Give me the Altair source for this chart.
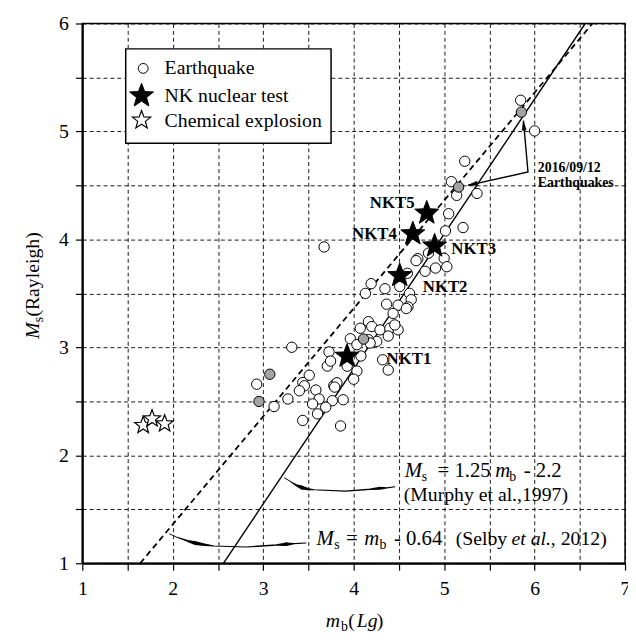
import altair as alt
import pandas as pd

# ---------------- data ----------------
eq_mb = [5.846, 6.0, 5.228, 5.08, 5.139, 5.363, 5.05, 5.209, 5.015,
         4.827, 4.709, 4.69, 5.0, 5.03, 4.905, 4.79, 4.593,
         3.673,
         4.193, 4.13, 4.346, 4.509, 4.618, 4.636, 4.6, 4.491, 4.364, 4.436, 4.582,
         4.163, 4.2, 4.073, 4.291, 4.4, 4.491, 4.455, 4.255, 4.382, 3.963, 4.163, 4.036, 4.182,
         3.316, 3.727, 3.709, 3.745, 3.928, 4.036, 4.0, 4.32, 4.382, 4.08,
         2.928, 3.509, 3.437, 3.455, 3.4, 3.582, 3.8, 3.78, 3.815, 3.79, 3.618, 3.546,
         3.764, 3.884, 3.691, 3.6, 3.273, 3.12, 3.437, 3.855]
eq_ms = [5.289, 5.005, 4.724, 4.535, 4.408, 4.426, 4.238, 4.11, 4.079,
         3.873, 3.822, 3.803, 3.825, 3.747, 3.735, 3.705, 3.686,
         3.93,
         3.59, 3.50, 3.543, 3.564, 3.50, 3.442, 3.375, 3.391, 3.40, 3.314, 3.36,
         3.238, 3.193, 3.177, 3.162, 3.177, 3.162, 3.208, 3.055, 3.105, 3.08, 3.071, 3.025, 3.04,
         3.001, 2.958, 2.827, 2.873, 2.826, 2.781, 2.705, 2.885, 2.79, 2.92,
         2.659, 2.742, 2.674, 2.644, 2.598, 2.605, 2.659, 2.645, 2.672, 2.632, 2.522, 2.476,
         2.506, 2.515, 2.446, 2.384, 2.522, 2.452, 2.323, 2.272]

gq_mb = [5.854, 5.16, 4.109, 3.073, 2.953]          # 2016/09/12 earthquakes (grey)
gq_ms = [5.179, 4.485, 3.077, 2.751, 2.499]

nk_names = ["NKT1", "NKT2", "NKT3", "NKT4", "NKT5"]
nk_mb = [3.927, 4.509, 4.895, 4.654, 4.808]
nk_ms = [2.918, 3.665, 3.939, 4.052, 4.244]

ch_mb = [1.673, 1.771, 1.91]                         # chemical explosions
ch_ms = [2.278, 2.339, 2.293]

murphy_mb = [2.56, 6.56]                             # Ms = 1.25 mb - 2.2
murphy_ms = [1.0, 6.0]
selby_mb = [1.64, 6.64]                              # Ms = mb - 0.64
selby_ms = [1.0, 6.0]

x_ticks = [1 + 0.5 * i for i in range(13)]
y_ticks = [1 + 0.5 * i for i in range(11)]

FONT = "Liberation Serif"
STAR = ("M0,-1L0.247,-0.34L0.951,-0.309L0.399,0.13L0.588,0.809L0,0.42"
        "L-0.588,0.809L-0.399,0.13L-0.951,-0.309L-0.247,-0.34Z")
HEAD = "M0,-1L0.45,1L-0.45,1Z"

# ---------------- scales / axes ----------------
XS = alt.Scale(domain=[1, 7], nice=False, zero=False)
YS = alt.Scale(domain=[1, 6], nice=False, zero=False)
common = dict(grid=True, gridColor="black", gridDash=[4, 3], gridWidth=0.9, gridOpacity=1,
              tickColor="black", tickSize=7, tickWidth=1.2, domainColor="black", domainWidth=2,
              labelFont=FONT, labelFontSize=20, labelColor="black", labelOverlap=False,
              labelFlush=False, labelBound=False, title=None,
              labelExpr="datum.value % 1 == 0 ? format(datum.value, 'd') : ''")
XA = alt.Axis(values=x_ticks, labelPadding=9, **common)
YA = alt.Axis(values=y_ticks, labelPadding=7, **common)


def X(f="x"):
    return alt.X(f, type="quantitative", scale=XS, axis=XA)


def Y(f="y"):
    return alt.Y(f, type="quantitative", scale=YS, axis=YA)


def txt(x, y, s, size=20, style="normal", weight="normal", align="left",
        baseline="alphabetic", angle=0):
    df = pd.DataFrame({"x": [x], "y": [y], "t": [s]})
    return alt.Chart(df).mark_text(font=FONT, fontSize=size, fontStyle=style,
                                   fontWeight=weight, align=align, baseline=baseline,
                                   angle=angle, color="black").encode(x=X(), y=Y(), text="t:N")


# ---------------- layers ----------------
lines_df = pd.DataFrame({"x": murphy_mb, "y": murphy_ms})
murphy = alt.Chart(lines_df).mark_line(color="black", strokeWidth=1.4, clip=True).encode(x=X(), y=Y())
selby_df = pd.DataFrame({"x": selby_mb, "y": selby_ms})
selby = alt.Chart(selby_df).mark_line(color="black", strokeWidth=1.8, strokeDash=[6, 4],
                                      clip=True).encode(x=X(), y=Y())

eq = alt.Chart(pd.DataFrame({"x": eq_mb, "y": eq_ms})).mark_point(
    shape="circle", filled=True, fill="white", stroke="black", strokeWidth=1, size=110,
    opacity=1).encode(x=X(), y=Y())
gq = alt.Chart(pd.DataFrame({"x": gq_mb, "y": gq_ms})).mark_point(
    shape="circle", filled=True, fill="#a3a3a3", stroke="black", strokeWidth=1, size=110,
    opacity=1).encode(x=X(), y=Y())
nk = alt.Chart(pd.DataFrame({"x": nk_mb, "y": nk_ms, "n": nk_names})).mark_point(
    shape=STAR, filled=True, fill="black", stroke="black", strokeWidth=1, size=650,
    opacity=1).encode(x=X(), y=Y())
ch = alt.Chart(pd.DataFrame({"x": ch_mb, "y": ch_ms})).mark_point(
    shape=STAR, filled=True, fill="white", stroke="black", strokeWidth=1.2, size=330,
    opacity=1).encode(x=X(), y=Y())

# NKT labels
nk_lab = [
    txt(4.673, 4.335, "NKT5", 17, weight="bold", align="right", baseline="middle"),
    txt(4.477, 4.051, "NKT4", 17, weight="bold", align="right", baseline="middle"),
    txt(5.080, 3.909, "NKT3", 17, weight="bold", baseline="middle"),
    txt(4.764, 3.558, "NKT2", 17, weight="bold", baseline="middle"),
    txt(4.364, 2.888, "NKT1", 17, weight="bold", baseline="middle"),
    txt(6.036, 4.660, "2016/09/12", 14, weight="bold", baseline="middle"),
    txt(6.036, 4.522, "Earthquakes", 14, weight="bold", baseline="middle"),
]

# arrows to 2016/09/12 earthquakes
arr_df = pd.DataFrame({"x": [5.262, 5.927, 5.877], "y": [4.501, 4.624, 5.100], "o": [0, 1, 2]})
arr = alt.Chart(arr_df).mark_line(color="black", strokeWidth=1.4).encode(
    x=X(), y=Y(), order="o:Q")
heads_df = pd.DataFrame({"x": [5.880, 5.315], "y": [5.055, 4.511], "a": [354.5, 257.5]})
heads = alt.Chart(heads_df).mark_point(shape=HEAD, filled=True, fill="black", stroke="black",
                                       strokeWidth=0.5, size=90, opacity=1).encode(
    x=X(), y=Y(), angle=alt.Angle("a:Q", scale=None))

# curved harpoon arrows (trails)
m_df = pd.DataFrame({
    "x": [3.236, 3.299, 3.364, 3.429, 3.494, 3.56, 3.910, 4.182, 4.291, 4.368, 4.455],
    "y": [1.791, 1.758, 1.724, 1.701, 1.687, 1.681, 1.669, 1.686, 1.695, 1.699, 1.708],
    "w": [0.8, 1.0, 2.0, 4.0, 2.5, 1.2, 1.2, 1.5, 3.0, 1.2, 1.0],
})
m_df["o"] = range(len(m_df))
s_df = pd.DataFrame({
    "x": [1.964, 2.055, 2.164, 2.251, 2.35, 2.455, 2.818, 3.146, 3.255, 3.342, 3.473],
    "y": [1.272, 1.238, 1.207, 1.187, 1.171, 1.160, 1.151, 1.169, 1.176, 1.182, 1.187],
    "w": [0.8, 1.0, 2.0, 4.0, 2.5, 1.2, 1.2, 1.5, 3.5, 1.5, 1.0],
})
s_df["o"] = range(len(s_df))
trail_m = alt.Chart(m_df).mark_trail(color="black").encode(
    x=X(), y=Y(), order="o:Q", size=alt.Size("w:Q", scale=None))
trail_s = alt.Chart(s_df).mark_trail(color="black").encode(
    x=X(), y=Y(), order="o:Q", size=alt.Size("w:Q", scale=None))

# equations
eqs = [
    txt(4.564, 1.797, "M", 21, style="italic"),
    txt(4.753, 1.761, "s", 14),
    txt(4.927, 1.797, "= 1.25", 21),
    txt(5.564, 1.797, "m", 21, style="italic"),
    txt(5.720, 1.761, "b", 14),
    txt(5.880, 1.797, "- 2.2", 21),
    txt(4.553, 1.578, "(Murphy et al.,1997)", 20),
    txt(3.590, 1.166, "M", 21, style="italic"),
    txt(3.786, 1.130, "s", 14),
    txt(3.915, 1.166, "=", 21),
    txt(4.118, 1.166, "m", 21, style="italic"),
    txt(4.285, 1.130, "b", 14),
    txt(4.445, 1.166, "- 0.64", 21),
    txt(5.128, 1.166, "(Selby", 20),
    txt(5.745, 1.166, "et al.", 20, style="italic"),
    txt(6.180, 1.166, ", 2012)", 20),
]

# legend
box_df = pd.DataFrame({"x": [1.48], "x2": [3.75], "y": [5.765], "y2": [4.89]})
box = alt.Chart(box_df).mark_rect(fill="white", stroke="black", strokeWidth=1.5).encode(
    x=X(), x2="x2", y=Y(), y2="y2")
leg_c = alt.Chart(pd.DataFrame({"x": [1.673], "y": [5.584]})).mark_point(
    shape="circle", filled=True, fill="white", stroke="black", strokeWidth=1, size=100,
    opacity=1).encode(x=X(), y=Y())
leg_s = alt.Chart(pd.DataFrame({"x": [1.655], "y": [5.330]})).mark_point(
    shape=STAR, filled=True, fill="black", stroke="black", strokeWidth=1, size=650,
    opacity=1).encode(x=X(), y=Y())
leg_o = alt.Chart(pd.DataFrame({"x": [1.655], "y": [5.105]})).mark_point(
    shape=STAR, filled=True, fill="white", stroke="black", strokeWidth=1.2, size=380,
    opacity=1).encode(x=X(), y=Y())
leg_t = [
    txt(1.91, 5.584, "Earthquake", 20, baseline="middle"),
    txt(1.91, 5.328, "NK nuclear test", 20, baseline="middle"),
    txt(1.91, 5.095, "Chemical explosion", 20, baseline="middle"),
]

# axis titles
titles = [
    txt(3.691, 0.410, "m", 20, style="italic"),
    txt(3.860, 0.374, "b", 14),
    txt(3.940, 0.410, "(", 20),
    txt(4.035, 0.410, "Lg", 20, style="italic"),
    txt(4.255, 0.410, ")", 20),
    txt(0.517, 3.080, "M", 20, style="italic", angle=270),
    txt(0.561, 3.232, "s", 14, angle=270),
    txt(0.517, 3.285, "(Rayleigh)", 20, angle=270),
]

chart = alt.layer(
    murphy, selby, eq, gq, ch, nk, arr, heads, trail_m, trail_s,
    box, leg_c, leg_s, leg_o, *leg_t, *nk_lab, *eqs, *titles
).properties(
    width=550, height=547,
    autosize=alt.AutoSizeParams(type="none"),
    padding={"left": 75.3, "top": 11.5, "right": 3, "bottom": 70},
    background="white",
).configure_view(stroke="black", strokeWidth=1.5)

chart.save("out.html", embed_options={"renderer": "svg", "actions": False})
